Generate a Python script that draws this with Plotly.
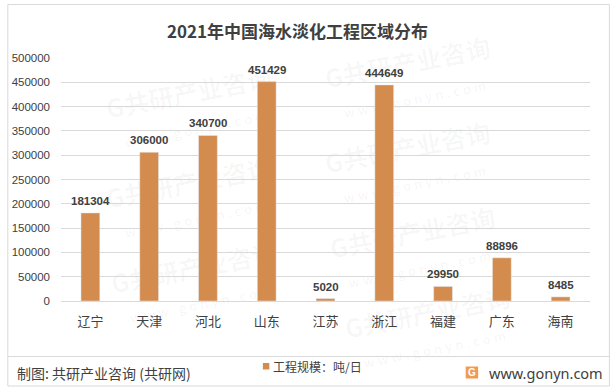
import plotly.graph_objects as go

categories = ["辽宁", "天津", "河北", "山东", "江苏", "浙江", "福建", "广东", "海南"]
values = [181304, 306000, 340700, 451429, 5020, 444649, 29950, 88896, 8485]
series_name = "工程规模：吨/日"
title_text = "2021年中国海水淡化工程区域分布"
source_text = "制图: 共研产业咨询 (共研网)"
site_text = "www.gonyn.com"
y_ticks = list(range(0, 500001, 50000))

W, H = 614, 390
L, R, T, B = 58, 24, 58, 89
PW, PH = W - L - R, H - T - B


def px(x):
    return (x - L) / PW


def py(y):
    return (H - B - y) / PH


BAR = "#D48C4E"
TXT = "#404040"
FONT = "Liberation Sans, Noto Sans CJK SC, sans-serif"
CJK = "Noto Sans CJK SC, sans-serif"

fig = go.Figure()
fig.add_trace(go.Bar(
    x=categories, y=values, name=series_name, marker_color=BAR,
    width=0.32, showlegend=False, cliponaxis=False,
))

annotations = []
for c, v in zip(categories, values):
    annotations.append(dict(
        x=c, y=v, xref="x", yref="y", text=f"{v}", showarrow=False,
        yanchor="bottom", yshift=4,
        font=dict(family=FONT, size=11.5, color=TXT, weight="bold"),
    ))

annotations += [
    dict(x=px(296), y=py(31), xref="paper", yref="paper", text=title_text,
         showarrow=False, xanchor="center", yanchor="middle",
         font=dict(family=CJK, size=17, color=TXT, weight="bold")),
    dict(x=px(269), y=py(366), xref="paper", yref="paper", text=series_name,
         showarrow=False, xanchor="left", yanchor="middle",
         font=dict(family=CJK, size=12, color=TXT)),
    dict(x=px(12), y=py(373), xref="paper", yref="paper", text=source_text,
         showarrow=False, xanchor="left", yanchor="middle",
         font=dict(family=CJK, size=14, color=TXT)),
    dict(x=px(486), y=py(373), xref="paper", yref="paper", text=site_text,
         showarrow=False, xanchor="left", yanchor="middle",
         font=dict(family="Noto Sans, sans-serif", size=14.5, color=TXT)),
    dict(x=px(471), y=py(372.5), xref="paper", yref="paper", text="G",
         showarrow=False, xanchor="center", yanchor="middle",
         font=dict(family="Liberation Sans, sans-serif", size=10, color="white", weight="bold")),
]

shapes = []
# faint watermark tiles (behind the bars), kept inside the frame
tiles = [(190, 110), (190, 200), (195, 285),
         (410, 80), (410, 165), (415, 250), (430, 330)]
for (xc, yc) in tiles:
    shapes.append(dict(
        type="rect", xref="paper", yref="paper", layer="below",
        x0=px(xc - 100), x1=px(xc + 100), y0=py(yc + 25), y1=py(yc - 25),
        line=dict(width=0), fillcolor="rgba(0,0,0,0)",
        label=dict(
            text="G共研产业咨询<br><span style='font-size:13px'>w w w . g o n y n . c o m</span>",
            textangle=-11, textposition="middle center",
            font=dict(family=CJK, size=25, color="rgba(0,0,0,0.035)", weight="bold"),
        ),
    ))

shapes += [
    # outer border
    dict(type="rect", xref="paper", yref="paper", x0=px(4.5), x1=px(609.5),
         y0=py(386), y1=py(4.5), line=dict(color="#D9D9D9", width=1),
         fillcolor="rgba(0,0,0,0)"),
    # separator above footer
    dict(type="line", xref="paper", yref="paper", x0=px(4.5), x1=px(609.5),
         y0=py(356.5), y1=py(356.5), line=dict(color="#D9D9D9", width=1)),
    # legend swatch
    dict(type="rect", xref="paper", yref="paper", x0=px(261), x1=px(267.5),
         y0=py(369.5), y1=py(363), line=dict(width=0), fillcolor=BAR),
    # logo
    dict(type="rect", xref="paper", yref="paper", x0=px(465), x1=px(477.5),
         y0=py(378.5), y1=py(366.5), line=dict(width=0), fillcolor="#F29A4E"),
]

fig.update_layout(
    width=W, height=H,
    margin=dict(l=L, r=R, t=T, b=B, pad=0),
    paper_bgcolor="white", plot_bgcolor="rgba(0,0,0,0)",
    font=dict(family=FONT, color=TXT),
    bargap=0.68,
    annotations=annotations, shapes=shapes,
    xaxis=dict(
        type="category", showgrid=False, showline=True, linecolor="#D9D9D9",
        linewidth=1, ticks="", ticklabelstandoff=8,
        tickfont=dict(family=CJK, size=13, color=TXT), fixedrange=True,
    ),
    yaxis=dict(
        range=[0, 500000], tickvals=y_ticks, ticktext=[str(t) for t in y_ticks],
        showgrid=True, gridcolor="#D9D9D9", gridwidth=1, zeroline=False,
        showline=False, ticks="", ticklabelstandoff=10,
        tickfont=dict(family=FONT, size=11.5, color=TXT), fixedrange=True,
    ),
)

fig.write_html(
    "out.html",
    config={"displayModeBar": False},
    post_script="document.body.style.margin='0';document.body.style.overflow='hidden';",
)
